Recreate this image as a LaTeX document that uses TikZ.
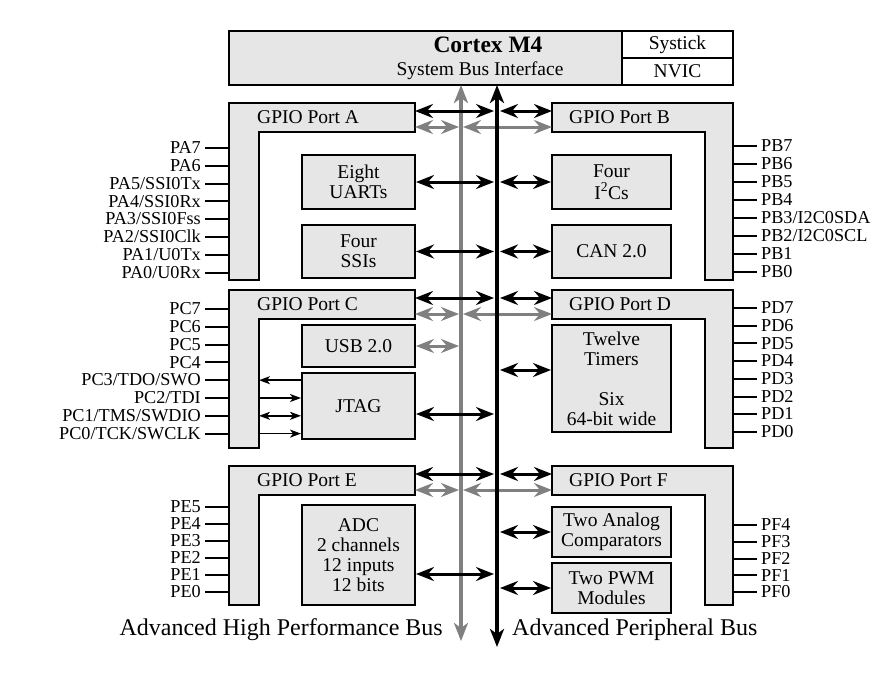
\documentclass[tikz,border=0pt]{standalone}
\usepackage{fontspec}
\setmainfont{Liberation Serif}
\usetikzlibrary{arrows.meta,calc}
\definecolor{boxgray}{RGB}{230,230,230}
\definecolor{busgray}{RGB}{128,128,128}
\tikzset{
  block/.style={draw, line width=2pt, fill=boxgray, align=center, inner sep=0pt,
    font=\fontsize{19.5}{20}\selectfont},
  port/.style={draw, line width=2pt, fill=boxgray},
  portlabel/.style={anchor=west, inner sep=0pt, font=\fontsize{19.5}{20}\selectfont},
  pinlabel/.style={inner xsep=4pt, inner ysep=0pt, text height=11.5pt, text depth=0pt,
    font=\fontsize{18.2}{18}\selectfont},
  pin/.style={line width=2pt},
  sig/.style={line width=1.6pt},
  >={Stealth[length=11pt,width=8pt,inset=3pt]},
  apbarrow/.style={line width=3pt,
    {Stealth[length=18pt,width=14pt,inset=6pt]}-{Stealth[length=18pt,width=14pt,inset=6pt]}},
  ahbarrow/.style={apbarrow, busgray},
  bus/.style={line width=4pt,
    {Stealth[length=18pt,width=14pt,inset=5pt]}-{Stealth[length=18pt,width=14pt,inset=5pt]}},
  buslabel/.style={inner sep=0pt, font=\fontsize{24}{25}\selectfont}
}
\begin{document}
\begin{tikzpicture}[x=1pt,y=-1pt]
  \useasboundingbox (0,0) rectangle (875,686);

  % processor core
  \node[block, minimum width=393pt, minimum height=54pt] (cortex) at (425.5,58) {};
  \node[block, fill=white, minimum width=111pt, minimum height=27pt] (systick) at (677.5,44.5) {Systick};
  \node[block, fill=white, minimum width=111pt, minimum height=27pt] (nvic) at (677.5,71.5) {NVIC};
  \node[font=\bfseries\fontsize{23.5}{25}\selectfont] (cm4) at (488,45) {Cortex M4};
  \node[font=\fontsize{19.5}{20}\selectfont] (sbi) at (480,71) {System Bus Interface};

  % GPIO ports, left and right
  \foreach \t/\b/\n in {103/280/A,290/448/C,466/605/E} {
    \draw[port] (229,\t) -- (415,\t) -- (415,\t+29) -- (259,\t+29) -- (259,\b) -- (229,\b) -- cycle;
    \node[portlabel] (port\n) at (257,\t+14.5) {GPIO Port \n};
    \coordinate (p\n-b) at (415,\t+8);
    \coordinate (p\n-g) at (415,\t+24);
  }
  \foreach \t/\b/\n in {103/280/B,290/448/D,466/605/F} {
    \draw[port] (552,\t) -- (733,\t) -- (733,\b) -- (705,\b) -- (705,\t+29) -- (552,\t+29) -- cycle;
    \node[portlabel] (port\n) at (569,\t+14.5) {GPIO Port \n};
    \coordinate (p\n-b) at (552,\t+8);
    \coordinate (p\n-g) at (552,\t+24);
  }
  \coordinate (cin) at (259,290);

  % peripherals
  \node[block, minimum width=113pt, minimum height=54pt] (uart) at (358.5,182) {Eight\\UARTs};
  \node[block, minimum width=113pt, minimum height=53pt] (ssi) at (358.5,251.5) {Four\\SSIs};
  \node[block, minimum width=113pt, minimum height=42pt] (usb) at (358.5,346) {USB 2.0};
  \node[block, minimum width=113pt, minimum height=66pt] (jtag) at (358.5,406) {JTAG};
  \node[block, minimum width=113pt, minimum height=100pt] (adc) at (358.5,555) {ADC\\2 channels\\12 inputs\\12 bits};
  \node[block, minimum width=119pt, minimum height=54pt] (i2c) at (611.5,182) {Four\\[2pt]I\textsuperscript{2}Cs};
  \node[block, minimum width=119pt, minimum height=53pt] (can) at (611.5,251.5) {CAN 2.0};
  \node[block, minimum width=119pt, minimum height=107pt] (timers) at (611.5,378.5) {Twelve\\Timers\\[20pt]Six\\64-bit wide};
  \node[block, minimum width=119pt, minimum height=50pt] (comp) at (611.5,532) {Two Analog\\Comparators};
  \node[block, minimum width=119pt, minimum height=50pt] (pwm) at (611.5,588) {Two PWM\\Modules};

  % pins
  \foreach \lab [count=\i from 0] in {PA7,PA6,PA5/SSI0Tx,PA4/SSI0Rx,PA3/SSI0Fss,PA2/SSI0Clk,PA1/U0Tx,PA0/U0Rx} {
    \node[pinlabel, anchor=east] (pa\i) at (205,148+17.8*\i) {\lab};
    \draw[pin] (pa\i.east) -- ++(24,0);
  }
  \foreach \lab [count=\i from 0] in {PB7,PB6,PB5,PB4,PB3/I2C0SDA,PB2/I2C0SCL,PB1,PB0} {
    \node[pinlabel, anchor=west] (pb\i) at (757,146+18*\i) {\lab};
    \draw[pin] (pb\i.west) -- ++(-24,0);
  }
  \foreach \lab [count=\i from 0] in {PC7,PC6,PC5,PC4,PC3/TDO/SWO,PC2/TDI,PC1/TMS/SWDIO,PC0/TCK/SWCLK} {
    \node[pinlabel, anchor=east] (pc\i) at (205,309+17.8*\i) {\lab};
    \draw[pin] (pc\i.east) -- ++(24,0);
  }
  \foreach \lab [count=\i from 0] in {PD7,PD6,PD5,PD4,PD3,PD2,PD1,PD0} {
    \node[pinlabel, anchor=west] (pd\i) at (757,308+17.7*\i) {\lab};
    \draw[pin] (pd\i.west) -- ++(-24,0);
  }
  \foreach \lab [count=\i from 0] in {PE5,PE4,PE3,PE2,PE1,PE0} {
    \node[pinlabel, anchor=east] (pe\i) at (205,507+17*\i) {\lab};
    \draw[pin] (pe\i.east) -- ++(24,0);
  }
  \foreach \lab [count=\i from 0] in {PF4,PF3,PF2,PF1,PF0} {
    \node[pinlabel, anchor=west] (pf\i) at (757,525+16.75*\i) {\lab};
    \draw[pin] (pf\i.west) -- ++(-24,0);
  }

  % JTAG signals through port C
  \draw[sig,<-] (pc4 -| cin) -- (pc4 -| jtag.west);
  \draw[sig,->] (pc5 -| cin) -- (pc5 -| jtag.west);
  \draw[sig,<->] (pc6 -| cin) -- (pc6 -| jtag.west);
  \draw[sig,->] (pc7 -| cin) -- (pc7 -| jtag.west);

  % buses
  \coordinate (ahbtop) at (461,85);
  \coordinate (ahbbot) at (461,641);
  \coordinate (apbtop) at (497,85);
  \coordinate (apbbot) at (497,647);
  \draw[bus, busgray] (ahbtop) -- (ahbbot);
  \foreach \n in {A,C,E}
    \draw[ahbarrow, shorten >=2pt] (p\n-g) -- (p\n-g -| ahbtop);
  \foreach \n in {B,D,F}
    \draw[ahbarrow, shorten <=2pt] (p\n-g -| ahbtop) -- (p\n-g);
  \draw[ahbarrow, shorten >=2pt] (usb.east) -- (usb.east -| ahbtop);
  \foreach \n in {A,C,E}
    \draw[apbarrow, shorten >=3pt] (p\n-b) -- (p\n-b -| apbtop);
  \foreach \n in {B,D,F}
    \draw[apbarrow, shorten <=3pt] (p\n-b -| apbtop) -- (p\n-b);
  \foreach \m in {uart,ssi}
    \draw[apbarrow, shorten >=3pt] (\m.east) -- (\m.east -| apbtop);
  \draw[apbarrow, shorten >=3pt] ([yshift=-8pt]jtag.east) -- ([yshift=-8pt]jtag.east -| apbtop);
  \draw[apbarrow, shorten >=3pt] ([yshift=-19pt]adc.east) -- ([yshift=-19pt]adc.east -| apbtop);
  \foreach \m in {i2c,can,comp,pwm}
    \draw[apbarrow, shorten <=3pt] (\m.west -| apbtop) -- (\m.west);
  \draw[apbarrow, shorten <=3pt] ([yshift=8.5pt]timers.west -| apbtop) -- ([yshift=8.5pt]timers.west);
  \draw[bus] (apbtop) -- (apbbot);

  \node[buslabel, anchor=east] (ahblab) at (443,630) {Advanced High Performance Bus};
  \node[buslabel, anchor=west] (apblab) at (512,630) {Advanced Peripheral Bus};
\end{tikzpicture}
\end{document}
